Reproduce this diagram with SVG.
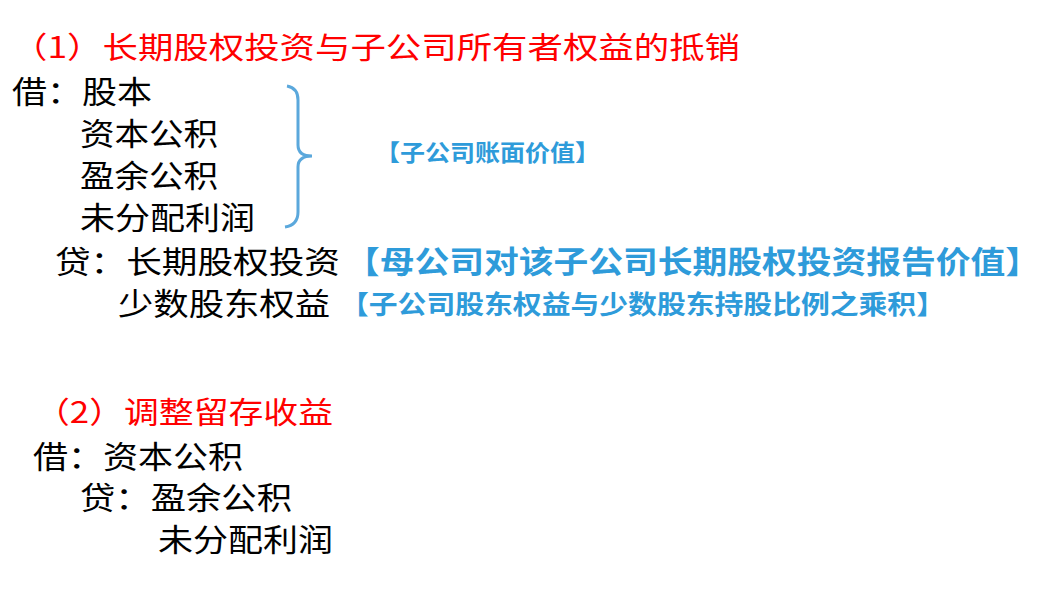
<svg xmlns="http://www.w3.org/2000/svg" width="1046" height="590" viewBox="0 0 1046 590">
<style>
text{font-family:"Noto Sans CJK SC","Liberation Sans",sans-serif;}
.r{fill:#ff0000;font-size:30px;}
.k{fill:#000;font-size:31px;}
.b{fill:#2e9bda;font-weight:bold;}
</style>
<rect width="1046" height="590" fill="#fff"/>
<g id="title1"><text class="r" x="12" y="58" textLength="728" lengthAdjust="spacingAndGlyphs">（1）长期股权投资与子公司所有者权益的抵销</text></g>
<g id="debit1">
<text class="k" x="12" y="103" textLength="140" lengthAdjust="spacingAndGlyphs">借：股本</text>
<text class="k" x="80" y="145" textLength="138" lengthAdjust="spacingAndGlyphs">资本公积</text>
<text class="k" x="80" y="187" textLength="138" lengthAdjust="spacingAndGlyphs">盈余公积</text>
<text class="k" x="80" y="229" textLength="175" lengthAdjust="spacingAndGlyphs">未分配利润</text>
</g>
<g id="brace"><path d="M287,86 Q298,88 298,100 L298,145 Q298,156 312,156 Q298,156 298,167 L298,212 Q298,225 285,227" fill="none" stroke="#5ba8dc" stroke-width="3"/></g>
<g id="note1"><text class="b" x="375" y="161" font-size="23" textLength="225" lengthAdjust="spacingAndGlyphs">【子公司账面价值】</text></g>
<g id="credit1">
<text class="k" x="55" y="273" textLength="285" lengthAdjust="spacingAndGlyphs">贷：长期股权投资</text>
<text class="b" x="345" y="273" font-size="31" textLength="695" lengthAdjust="spacingAndGlyphs">【母公司对该子公司长期股权投资报告价值】</text>
<text class="k" x="118" y="315" textLength="212" lengthAdjust="spacingAndGlyphs">少数股东权益</text>
<text class="b" x="340" y="314" font-size="26" textLength="605" lengthAdjust="spacingAndGlyphs">【子公司股东权益与少数股东持股比例之乘积】</text>
</g>
<g id="title2"><text class="r" x="35" y="423" textLength="298" lengthAdjust="spacingAndGlyphs">（2）调整留存收益</text></g>
<g id="entry2">
<text class="k" x="33" y="468" textLength="210" lengthAdjust="spacingAndGlyphs">借：资本公积</text>
<text class="k" x="80" y="509" textLength="212" lengthAdjust="spacingAndGlyphs">贷：盈余公积</text>
<text class="k" x="158" y="551" textLength="175" lengthAdjust="spacingAndGlyphs">未分配利润</text>
</g>
<g id="connectors"/>
</svg>
